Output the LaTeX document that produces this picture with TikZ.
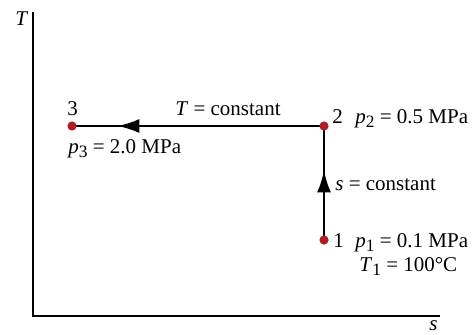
\documentclass[tikz,border=0pt]{standalone}
\usepackage{fontspec}
\setmainfont{Liberation Serif}
\usetikzlibrary{
	arrows.meta,
	decorations.markings,
	positioning
}
\definecolor{StateRed}{RGB}{176,28,36}
\newcommand{\lowidx}[1]{\raisebox{-0.45ex}{\fontsize{8.7}{10}\selectfont #1}}

\begin{document}
\begin{tikzpicture}[x=0.5pt,y=-0.5pt,font=\fontsize{10.5}{12}\selectfont,
		state/.style={circle,fill=StateRed,inner sep=0pt,minimum size=4.6pt},
		process/.style={line width=1.1pt},
		midarrow/.style={postaction={decorate,decoration={markings,
			mark=at position #1 with {\arrow{Latex[length=11pt,width=7pt]}}}}},
		lbl/.style={anchor=base west,inner sep=0pt}]
		\useasboundingbox (0,0) rectangle (472,334);
		% axes
		\coordinate (O) at (33,316);
		\coordinate (Ttop) at (33,12);
		\coordinate (send) at (440,316);
		\draw[line width=0.6pt] (Ttop) -- (O) -- (send);
		\node[lbl] (Tax) at (15,25) {\textit{T}};
		\node[lbl] (sax) at (429,330) {\textit{s}};
		% states
		\coordinate (p1) at (324,240);
		\coordinate (p2) at (324,126);
		\coordinate (p3) at (72,126);
		\draw[process,midarrow=0.61] (p1) -- (p2);
		\draw[process,midarrow=0.82] (p2) -- (p3);
		\node[state] (s1) at (p1) {};
		\node[state] (s2) at (p2) {};
		\node[state] (s3) at (p3) {};
		% labels
		\node[lbl] (n1) at (333,247) {1};
		\node[lbl] (n2) at (332,123) {2};
		\node[lbl] (n3) at (67,115) {3};
		\node[lbl] (pr1) at (355,247) {\textit{p}\lowidx{1} = 0.1 MPa};
		\node[lbl] (te1) at (359,271) {\textit{T}\lowidx{1} = 100°C};
		\node[lbl] (pr2) at (355,123) {\textit{p}\lowidx{2} = 0.5 MPa};
		\node[lbl] (pr3) at (68,153) {\textit{p}\lowidx{3} = 2.0 MPa};
		\node[lbl] (isoT) at (175,115) {\textit{T} = constant};
		\node[lbl] (isoS) at (335,190) {\textit{s} = constant};
	\end{tikzpicture}
\end{document}
